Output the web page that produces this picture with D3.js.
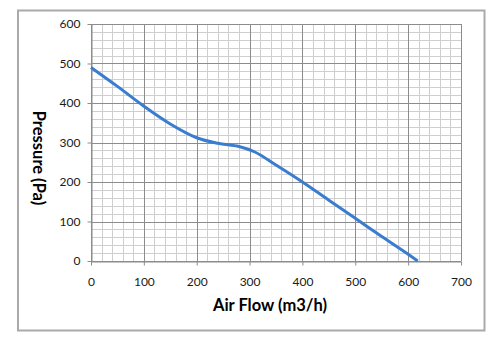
<!DOCTYPE html>
<html><head><meta charset="utf-8">
<script src="https://cdn.jsdelivr.net/npm/d3@7"></script>
<style>body{margin:0;background:#fff}svg{display:block}</style>
</head><body>
<script>
const airFlow = [0, 50, 100, 150, 200, 240, 280, 310, 350, 400, 450, 500, 550, 600, 618];
const pressure = [490, 442, 392, 347, 312, 298, 290, 276, 243, 200, 154, 108, 62, 17, 0];
const xTicks = [0, 100, 200, 300, 400, 500, 600, 700];
const yTicks = [0, 100, 200, 300, 400, 500, 600];
const xMinor = d3.range(0, 701, 20);
const yMinor = d3.range(0, 601, 20);

const W = 500, H = 346;
const m = {l: 91, r: 39, t: 24, b: 85};
const svg = d3.select("body").append("svg").attr("width", W).attr("height", H);
svg.append("rect").attr("width", W).attr("height", H).attr("fill", "#fff");
svg.append("rect").attr("x", 18).attr("y", 10.5).attr("width", 466.5).attr("height", 320)
  .attr("fill", "#fff").attr("stroke", "#aaa").attr("stroke-width", 2);

const x = d3.scaleLinear().domain([0, 700]).range([m.l, W - m.r]);
const y = d3.scaleLinear().domain([0, 600]).range([H - m.b, m.t]);
const font = "Lato, 'Open Sans', sans-serif";

const g = svg.append("g");
g.selectAll(".vx").data(xMinor).join("line")
  .attr("x1", d => Math.round(x(d)) + 0.5).attr("x2", d => Math.round(x(d)) + 0.5)
  .attr("y1", y(0)).attr("y2", y(600)).attr("stroke", "#cfcfcf").attr("stroke-width", 1);
g.selectAll(".hy").data(yMinor).join("line")
  .attr("y1", d => Math.round(y(d)) + 0.5).attr("y2", d => Math.round(y(d)) + 0.5)
  .attr("x1", x(0)).attr("x2", x(700)).attr("stroke", "#cfcfcf").attr("stroke-width", 1);
g.selectAll(".mx").data(xTicks).join("line")
  .attr("x1", d => Math.round(x(d)) + 0.5).attr("x2", d => Math.round(x(d)) + 0.5)
  .attr("y1", y(0)).attr("y2", y(600)).attr("stroke", "#8c8c8c").attr("stroke-width", 1);
g.selectAll(".my").data(yTicks).join("line")
  .attr("y1", d => Math.round(y(d)) + 0.5).attr("y2", d => Math.round(y(d)) + 0.5)
  .attr("x1", x(0)).attr("x2", x(700)).attr("stroke", "#8c8c8c").attr("stroke-width", 1);

const xAxis = svg.append("g").attr("transform", `translate(0,${Math.round(y(0)) + 0.5})`)
  .call(d3.axisBottom(x).tickValues(xTicks).tickSize(4).tickPadding(12).tickSizeOuter(0));
const yAxis = svg.append("g").attr("transform", `translate(${Math.round(x(0)) + 0.5},0)`)
  .call(d3.axisLeft(y).tickValues(yTicks).tickSize(4).tickPadding(7).tickSizeOuter(0));
[xAxis, yAxis].forEach(a => {
  a.select(".domain").attr("stroke", "#8c8c8c");
  a.selectAll(".tick line").attr("stroke", "#8c8c8c");
  a.selectAll("text").attr("font-family", font).attr("font-size", 12).attr("fill", "#1a1a1a");
});

const line = d3.line().x((d, i) => x(airFlow[i])).y(d => y(d)).curve(d3.curveCatmullRom.alpha(0.5));
svg.append("path").datum(pressure).attr("d", line)
  .attr("fill", "none").attr("stroke", "#3a7dd0").attr("stroke-width", 3).attr("stroke-linecap", "butt");

svg.append("text").attr("x", 270).attr("y", 311).attr("text-anchor", "middle")
  .attr("font-family", font).attr("font-weight", "bold").attr("font-size", 16.5).attr("fill", "#000")
  .text("Air Flow (m3/h)");
svg.append("text").attr("transform", "translate(33,158) rotate(90)").attr("text-anchor", "middle")
  .attr("font-family", font).attr("font-weight", "bold").attr("font-size", 16.5).attr("fill", "#000")
  .text("Pressure (Pa)");
</script>
</body></html>
